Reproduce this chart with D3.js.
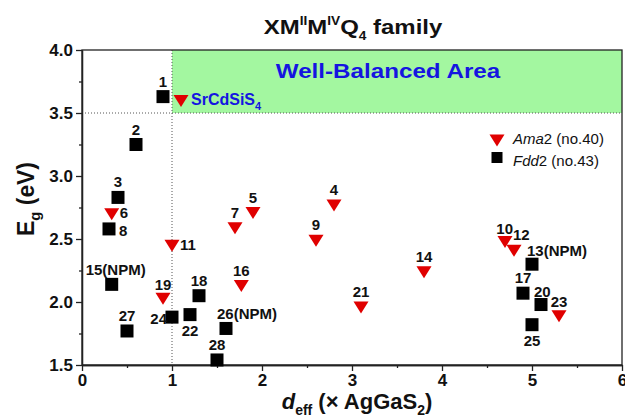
<!DOCTYPE html>
<html>
<head>
<meta charset="utf-8">
<script src="https://cdn.jsdelivr.net/npm/d3@7"></script>
<style>
  body { margin: 0; background: #fff; }
  text { font-family: "Liberation Sans", Arial, sans-serif; }
</style>
</head>
<body>
<div id="chart"></div>
<script>
// data: d_eff (x AgGaS2) and Eg (eV)
var amaIds = ['SrCdSiS4', '4', '5', '6', '7', '9', '10', '11', '12', '14', '16', '19', '21', '23'];
var amaDeff = [1.1, 2.8, 1.9, 0.33, 1.7, 2.6, 4.7, 1.0, 4.8, 3.8, 1.77, 0.9, 3.1, 5.3];
var amaEg = [3.60, 2.77, 2.71, 2.70, 2.59, 2.49, 2.48, 2.45, 2.41, 2.24, 2.13, 2.03, 1.96, 1.89];

var fddIds = ['1', '2', '3', '8', '13(NPM)', '15(NPM)', '17', '18', '20', '22', '24', '25', '26(NPM)', '27', '28'];
var fddDeff = [0.9, 0.6, 0.4, 0.3, 5.0, 0.33, 4.9, 1.3, 5.1, 1.2, 1.0, 5.0, 1.6, 0.5, 1.5];
var fddEg = [3.63, 3.25, 2.83, 2.58, 2.30, 2.14, 2.07, 2.05, 1.98, 1.90, 1.88, 1.82, 1.79, 1.77, 1.54];

var xTicks = [0, 1, 2, 3, 4, 5, 6];
var yTicks = [1.5, 2.0, 2.5, 3.0, 3.5, 4.0];

// label nudges in px relative to the marker: [dx, dy, anchor] (layout only)
var labelNudge = {
  '6': [8, 4, 'start'], '8': [10, 7, 'start'], '11': [8, 5, 'start'],
  '24': [-5, 7, 'end'], '22': [0, 21, 'middle'], '25': [0, 21, 'middle'],
  '10': [8, -8, 'end'], '12': [-1, -10, 'start'], '20': [-7, -8, 'start'],
  '13(NPM)': [-5, -8, 'start'], '26(NPM)': [-9, -9, 'start'], '15(NPM)': [4, -9, 'middle'],
  '23': [0, -9, 'middle'], '19': [0, -8, 'middle']
};

var w = 625, h = 415;
var margin = { top: 50, right: 3, bottom: 50, left: 82 };

var svg = d3.select('#chart').append('svg')
  .attr('width', w)
  .attr('height', h);

var x = d3.scaleLinear().domain([0, 6]).range([margin.left, w - margin.right]);
var y = d3.scaleLinear().domain([1.5, 4.0]).range([h - margin.bottom, margin.top]);

// squeeze/stretch a text group so it spans a given width along its own baseline
function fitText(g, tx, ty, width, rot) {
  var bb = g.select('text').node().getBBox();
  g.attr('transform', 'translate(' + tx + ',' + ty + ')' + (rot ? ' rotate(' + rot + ')' : '') +
    ' scale(' + (width / bb.width) + ',1)');
}

// green "well-balanced" box
svg.append('rect')
  .attr('x', x(1))
  .attr('y', y(4.0))
  .attr('width', x(6) - x(1))
  .attr('height', y(3.5) - y(4.0))
  .attr('fill', '#a3f7a0');

var wba = svg.append('g');
wba.append('text')
  .attr('text-anchor', 'middle')
  .attr('font-size', 21)
  .attr('font-weight', 'bold')
  .attr('fill', '#1515e0')
  .text('Well-Balanced Area');
fitText(wba, 388, 78, 225);

// dotted guide lines
svg.append('line')
  .attr('x1', x(1)).attr('x2', x(1))
  .attr('y1', y(4.0)).attr('y2', y(1.5))
  .attr('stroke', '#555').attr('stroke-width', 1).attr('stroke-dasharray', '1,2');
svg.append('line')
  .attr('x1', x(0)).attr('x2', x(6))
  .attr('y1', y(3.5)).attr('y2', y(3.5))
  .attr('stroke', '#555').attr('stroke-width', 1).attr('stroke-dasharray', '1,2');

// frame
svg.append('rect')
  .attr('x', x(0)).attr('y', y(4.0))
  .attr('width', x(6) - x(0)).attr('height', y(1.5) - y(4.0))
  .attr('fill', 'none').attr('stroke', '#222').attr('stroke-width', 1.3);

// axes
var xAxis = d3.axisBottom(x).tickValues(xTicks).tickFormat(d3.format('d')).tickSize(6).tickSizeOuter(0);
var xMinor = d3.axisBottom(x).tickValues(d3.range(0.5, 6, 1)).tickFormat('').tickSize(3).tickSizeOuter(0);
var yAxis = d3.axisLeft(y).tickValues(yTicks).tickFormat(d3.format('.1f')).tickSize(6).tickSizeOuter(0);
var yMinor = d3.axisLeft(y).tickValues(d3.range(1.75, 4, 0.5)).tickFormat('').tickSize(3).tickSizeOuter(0);

[xAxis, xMinor].forEach(function(a) {
  svg.append('g')
    .attr('class', 'axis')
    .attr('transform', 'translate(0,' + y(1.5) + ')')
    .call(a);
});
[yAxis, yMinor].forEach(function(a) {
  svg.append('g')
    .attr('class', 'axis')
    .attr('transform', 'translate(' + x(0) + ',0)')
    .call(a);
});

svg.selectAll('.axis path').attr('stroke', '#222').attr('stroke-width', 1.3);
svg.selectAll('.axis line').attr('stroke', '#222').attr('stroke-width', 1.3);
svg.selectAll('.axis text')
  .attr('font-size', 17)
  .attr('font-weight', 'bold')
  .attr('fill', '#111')
  .style('font-family', '"Liberation Sans", Arial, sans-serif');

// title
var titleG = svg.append('g');
var title = titleG.append('text')
  .attr('text-anchor', 'middle')
  .attr('font-size', 21)
  .attr('font-weight', 'bold')
  .attr('fill', '#111');
title.append('tspan').text('XM');
title.append('tspan').attr('font-size', 12).attr('dy', -9).text('II');
title.append('tspan').attr('dy', 9).text('M');
title.append('tspan').attr('font-size', 12).attr('dy', -9).text('IV');
title.append('tspan').attr('dy', 9).text('Q');
title.append('tspan').attr('font-size', 12).attr('dy', 6).text('4');
title.append('tspan').attr('dy', -6).text(' family');
fitText(titleG, 353, 34, 179);

// axis titles
var yTitleG = svg.append('g');
var yTitle = yTitleG.append('text')
  .attr('text-anchor', 'middle')
  .attr('font-size', 23)
  .attr('font-weight', 'bold')
  .attr('fill', '#111');
yTitle.append('tspan').text('E');
yTitle.append('tspan').attr('font-size', 15).attr('dy', 6).text('g');
yTitle.append('tspan').attr('dy', -6).text(' (eV)');
fitText(yTitleG, 34, 199, 74, -90);

var xTitle = svg.append('text')
  .attr('x', 357)
  .attr('y', 409)
  .attr('text-anchor', 'middle')
  .attr('font-size', 22)
  .attr('font-weight', 'bold')
  .attr('fill', '#111');
xTitle.append('tspan').attr('font-style', 'italic').text('d');
xTitle.append('tspan').attr('font-size', 14).attr('dy', 6).text('eff');
xTitle.append('tspan').attr('dy', -6).text(' (\u00d7 AgGaS');
xTitle.append('tspan').attr('font-size', 14).attr('dy', 6).text('2');
xTitle.append('tspan').attr('dy', -6).text(')');

// markers
var triPath = 'M-7.5,-5.5L7.5,-5.5L0,6.5Z'; // downward triangle
var ama = amaIds.map(function(id, i) { return { id: id, dx: amaDeff[i], eg: amaEg[i] }; });
var fdd = fddIds.map(function(id, i) { return { id: id, dx: fddDeff[i], eg: fddEg[i] }; });

svg.selectAll('.ama')
  .data(ama)
  .enter()
  .append('path')
    .attr('class', 'ama')
    .attr('d', triPath)
    .attr('transform', function(d) { return 'translate(' + x(d.dx) + ',' + y(d.eg) + ')'; })
    .attr('fill', '#e00000');

svg.selectAll('.fdd')
  .data(fdd)
  .enter()
  .append('rect')
    .attr('class', 'fdd')
    .attr('x', function(d) { return x(d.dx) - 6.5; })
    .attr('y', function(d) { return y(d.eg) - 6.5; })
    .attr('width', 13)
    .attr('height', 13)
    .attr('fill', '#000');

// point labels
function nudge(d) {
  return labelNudge[d.id] || [0, -10, 'middle'];
}

svg.selectAll('.pt-label')
  .data(ama.filter(function(d) { return d.id !== 'SrCdSiS4'; }).concat(fdd))
  .enter()
  .append('text')
    .attr('class', 'pt-label')
    .attr('x', function(d) { return x(d.dx) + nudge(d)[0]; })
    .attr('y', function(d) { return y(d.eg) + nudge(d)[1]; })
    .attr('text-anchor', function(d) { return nudge(d)[2]; })
    .attr('font-size', 15)
    .attr('font-weight', 'bold')
    .attr('fill', '#111')
    .text(function(d) { return d.id; });

// SrCdSiS4 label in blue
var sr = ama[0];
var srLabel = svg.append('text')
  .attr('x', x(sr.dx) + 10)
  .attr('y', y(sr.eg) + 5)
  .attr('font-size', 16)
  .attr('font-weight', 'bold')
  .attr('fill', '#1515e0');
srLabel.append('tspan').text('SrCdSiS');
srLabel.append('tspan').attr('font-size', 11).attr('dy', 5).text('4');

// legend
var legend = svg.append('g').attr('transform', 'translate(497,140)');
legend.append('path')
  .attr('d', triPath)
  .attr('fill', '#e00000');
legend.append('rect')
  .attr('x', -5.5).attr('y', 12).attr('width', 11).attr('height', 11)
  .attr('fill', '#000');

var l1 = legend.append('text').attr('x', 16).attr('y', 4).attr('font-size', 15).attr('fill', '#111');
l1.append('tspan').attr('font-style', 'italic').text('Ama');
l1.append('tspan').text('2 (no.40)');
var l2 = legend.append('text').attr('x', 16).attr('y', 26).attr('font-size', 15).attr('fill', '#111');
l2.append('tspan').attr('font-style', 'italic').text('Fdd');
l2.append('tspan').text('2 (no.43)');
</script>
</body>
</html>
